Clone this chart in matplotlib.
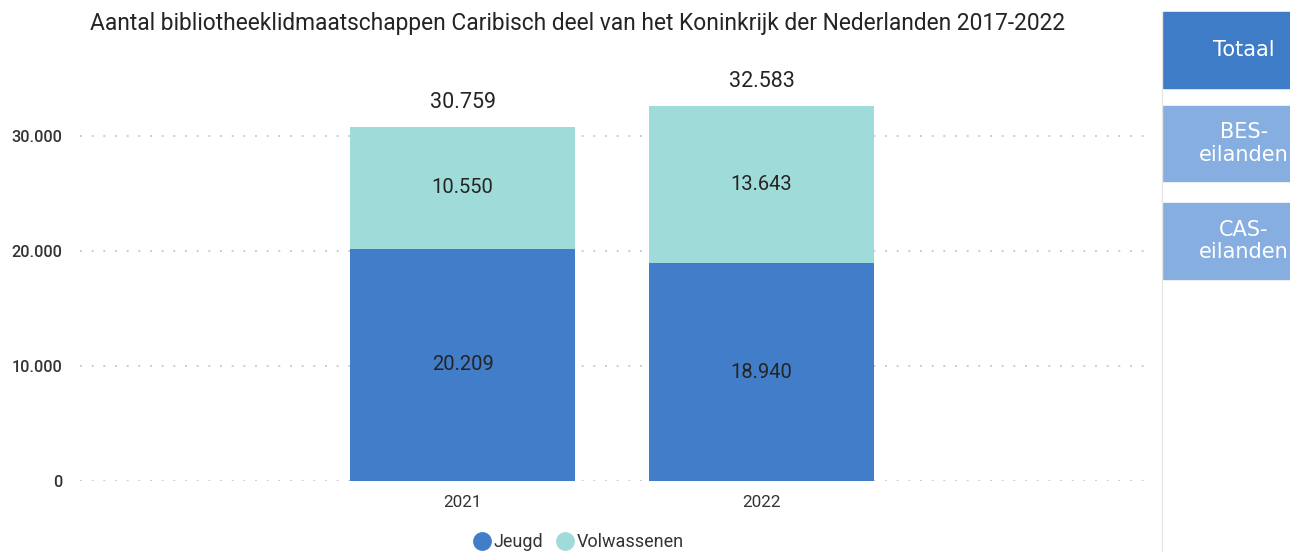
import numpy as np
import matplotlib.pyplot as plt
from matplotlib.patches import Rectangle

plt.rcParams['font.family'] = ['Roboto', 'DejaVu Sans']

jaren = ['2021', '2022']
jeugd = [20209, 18940]
volwassenen = [10550, 13643]
totaal = [30759, 32583]
knoppen = ['Totaal', 'BES-\neilanden', 'CAS-\neilanden']

c_jeugd = '#417DC8'
c_volw = '#9EDBD9'
c_tekst = '#252423'

W, H = 1290, 552
fig = plt.figure(figsize=(W / 100, H / 100), dpi=100)
ax = fig.add_axes([80 / W, 1 - 481 / H, 1070 / W, 411 / H])

x = np.arange(len(jaren))
ax.bar(x, jeugd, width=0.75, color=c_jeugd, zorder=3)
ax.bar(x, volwassenen, width=0.75, bottom=jeugd, color=c_volw, zorder=3)

def fmt(v):
    return f'{v:,}'.replace(',', '.')

for i in range(len(jaren)):
    ax.text(x[i], jeugd[i] / 2, fmt(jeugd[i]), ha='center', va='center',
            fontsize=14.5, color=c_tekst, zorder=4)
    ax.text(x[i], jeugd[i] + volwassenen[i] / 2, fmt(volwassenen[i]),
            ha='center', va='center', fontsize=14.5, color=c_tekst, zorder=4)
    ax.annotate(fmt(totaal[i]), (x[i], totaal[i]), xytext=(0, 18),
                textcoords='offset points', ha='center', va='center',
                fontsize=15.5, color=c_tekst, zorder=4)

ax.set_xlim(-1.28, 2.30)
ax.set_ylim(0, 35740)
ax.set_yticks([0, 10000, 20000, 30000])
ax.set_yticklabels([fmt(v) for v in [0, 10000, 20000, 30000]], fontsize=11.7,
                   color='#333333', fontweight='medium')
ax.set_xticks(x)
ax.set_xticklabels(jaren, fontsize=12.3, color='#333333')
ax.tick_params(length=0)
ax.tick_params(axis='y', pad=13)
ax.tick_params(axis='x', pad=10)
ax.grid(axis='y', color='#CCCCCC', linestyle=(0, (1, 5)), linewidth=1.4, zorder=0)
for s in ax.spines.values():
    s.set_visible(False)

fig.text(90 / W, 1 - 30 / H,
         'Aantal bibliotheeklidmaatschappen Caribisch deel van het Koninkrijk der Nederlanden 2017-2022',
         fontsize=16.4, color=c_tekst, ha='left', va='baseline')

# legenda onderaan
ax.legend([plt.Line2D([], [], marker='o', ls='', color=c_jeugd, markersize=12.5),
           plt.Line2D([], [], marker='o', ls='', color=c_volw, markersize=12.5)],
          ['Jeugd', 'Volwassenen'], loc='center',
          bbox_to_anchor=((578 - 80) / 1070, (481 - 542) / 411),
          ncol=2, frameon=False, fontsize=13, handletextpad=0.15, columnspacing=0.7,
          handlelength=1.0, labelcolor='#333333')

# slicer-knoppen rechts
fig.add_artist(plt.Line2D([1162 / W, 1162 / W], [0, 1 - 12 / H],
                          color='#E6E6E6', lw=1))
knop_y = [(12, 88), (106, 181), (203, 279)]
knop_kleur = ['#3F7CC8', '#86AEE0', '#86AEE0']
for label, (y0, y1), kl in zip(knoppen, knop_y, knop_kleur):
    fig.add_artist(Rectangle((1163 / W, 1 - y1 / H), 130 / W, (y1 - y0) / H,
                             color=kl, transform=fig.transFigure))
    fig.text(1244 / W, 1 - (y0 + y1) / 2 / H, label, ha='center', va='center',
             fontsize=15, color='white', family='DejaVu Sans', linespacing=1.15)

fig.savefig('out.png', dpi=100)
